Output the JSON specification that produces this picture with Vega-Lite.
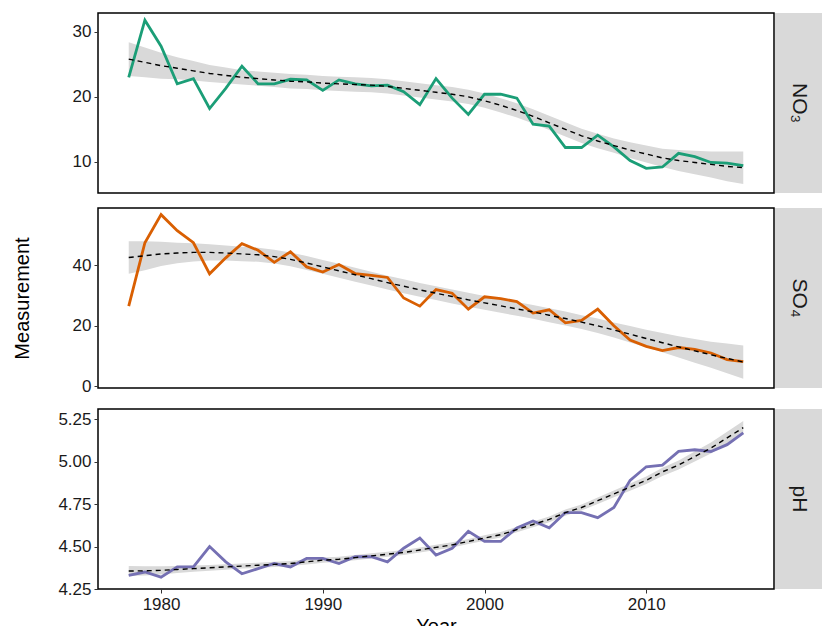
{
  "$schema": "https://vega.github.io/schema/vega-lite/v6.json",
  "padding": {"left": 11, "top": 12, "right": 4, "bottom": 0},
  "background": "white",
  "spacing": 13,
  "datasets": {
    "chem": [
      {"year":1978,"param":"NO3","value":23.0,"fit":25.8,"hw":2.6},
      {"year":1979,"param":"NO3","value":31.8,"fit":25.3,"hw":2.3},
      {"year":1980,"param":"NO3","value":27.8,"fit":24.8,"hw":2.0},
      {"year":1981,"param":"NO3","value":22.0,"fit":24.4,"hw":1.7},
      {"year":1982,"param":"NO3","value":22.8,"fit":24.0,"hw":1.5},
      {"year":1983,"param":"NO3","value":18.2,"fit":23.6,"hw":1.3},
      {"year":1984,"param":"NO3","value":21.3,"fit":23.3,"hw":1.2},
      {"year":1985,"param":"NO3","value":24.7,"fit":23.0,"hw":1.1},
      {"year":1986,"param":"NO3","value":22.0,"fit":22.8,"hw":1.1},
      {"year":1987,"param":"NO3","value":22.0,"fit":22.6,"hw":1.1},
      {"year":1988,"param":"NO3","value":22.7,"fit":22.4,"hw":1.1},
      {"year":1989,"param":"NO3","value":22.6,"fit":22.3,"hw":1.1},
      {"year":1990,"param":"NO3","value":21.0,"fit":22.1,"hw":1.1},
      {"year":1991,"param":"NO3","value":22.6,"fit":22.0,"hw":1.1},
      {"year":1992,"param":"NO3","value":22.0,"fit":21.9,"hw":1.1},
      {"year":1993,"param":"NO3","value":21.7,"fit":21.8,"hw":1.1},
      {"year":1994,"param":"NO3","value":21.8,"fit":21.6,"hw":1.1},
      {"year":1995,"param":"NO3","value":20.8,"fit":21.3,"hw":1.1},
      {"year":1996,"param":"NO3","value":18.8,"fit":21.0,"hw":1.1},
      {"year":1997,"param":"NO3","value":22.8,"fit":20.7,"hw":1.1},
      {"year":1998,"param":"NO3","value":19.8,"fit":20.4,"hw":1.1},
      {"year":1999,"param":"NO3","value":17.3,"fit":20.0,"hw":1.1},
      {"year":2000,"param":"NO3","value":20.4,"fit":19.4,"hw":1.1},
      {"year":2001,"param":"NO3","value":20.4,"fit":18.7,"hw":1.1},
      {"year":2002,"param":"NO3","value":19.8,"fit":17.9,"hw":1.1},
      {"year":2003,"param":"NO3","value":15.8,"fit":17.0,"hw":1.1},
      {"year":2004,"param":"NO3","value":15.5,"fit":16.0,"hw":1.1},
      {"year":2005,"param":"NO3","value":12.2,"fit":15.0,"hw":1.1},
      {"year":2006,"param":"NO3","value":12.2,"fit":14.0,"hw":1.1},
      {"year":2007,"param":"NO3","value":14.1,"fit":13.2,"hw":1.1},
      {"year":2008,"param":"NO3","value":12.3,"fit":12.5,"hw":1.1},
      {"year":2009,"param":"NO3","value":10.2,"fit":11.8,"hw":1.2},
      {"year":2010,"param":"NO3","value":9.0,"fit":11.2,"hw":1.3},
      {"year":2011,"param":"NO3","value":9.2,"fit":10.6,"hw":1.4},
      {"year":2012,"param":"NO3","value":11.3,"fit":10.2,"hw":1.6},
      {"year":2013,"param":"NO3","value":10.8,"fit":9.9,"hw":1.8},
      {"year":2014,"param":"NO3","value":9.9,"fit":9.6,"hw":2.0},
      {"year":2015,"param":"NO3","value":9.8,"fit":9.3,"hw":2.3},
      {"year":2016,"param":"NO3","value":9.4,"fit":9.1,"hw":2.5},
      {"year":1978,"param":"SO4","value":26.5,"fit":42.6,"hw":5.4},
      {"year":1979,"param":"SO4","value":47.5,"fit":43.2,"hw":4.8},
      {"year":1980,"param":"SO4","value":56.8,"fit":43.8,"hw":4.0},
      {"year":1981,"param":"SO4","value":51.5,"fit":44.1,"hw":3.4},
      {"year":1982,"param":"SO4","value":47.5,"fit":44.3,"hw":3.0},
      {"year":1983,"param":"SO4","value":37.2,"fit":44.3,"hw":2.7},
      {"year":1984,"param":"SO4","value":42.5,"fit":44.1,"hw":2.5},
      {"year":1985,"param":"SO4","value":47.2,"fit":43.8,"hw":2.4},
      {"year":1986,"param":"SO4","value":45.0,"fit":43.5,"hw":2.3},
      {"year":1987,"param":"SO4","value":41.0,"fit":42.9,"hw":2.3},
      {"year":1988,"param":"SO4","value":44.5,"fit":42.0,"hw":2.3},
      {"year":1989,"param":"SO4","value":39.5,"fit":40.8,"hw":2.3},
      {"year":1990,"param":"SO4","value":37.8,"fit":39.5,"hw":2.3},
      {"year":1991,"param":"SO4","value":40.3,"fit":38.2,"hw":2.3},
      {"year":1992,"param":"SO4","value":37.3,"fit":36.9,"hw":2.3},
      {"year":1993,"param":"SO4","value":36.7,"fit":35.6,"hw":2.3},
      {"year":1994,"param":"SO4","value":36.0,"fit":34.3,"hw":2.3},
      {"year":1995,"param":"SO4","value":29.2,"fit":33.1,"hw":2.3},
      {"year":1996,"param":"SO4","value":26.5,"fit":31.9,"hw":2.3},
      {"year":1997,"param":"SO4","value":32.0,"fit":30.8,"hw":2.3},
      {"year":1998,"param":"SO4","value":30.8,"fit":29.7,"hw":2.3},
      {"year":1999,"param":"SO4","value":25.5,"fit":28.6,"hw":2.3},
      {"year":2000,"param":"SO4","value":29.6,"fit":27.6,"hw":2.3},
      {"year":2001,"param":"SO4","value":29.0,"fit":26.6,"hw":2.3},
      {"year":2002,"param":"SO4","value":28.0,"fit":25.6,"hw":2.3},
      {"year":2003,"param":"SO4","value":24.2,"fit":24.6,"hw":2.3},
      {"year":2004,"param":"SO4","value":25.3,"fit":23.5,"hw":2.3},
      {"year":2005,"param":"SO4","value":21.0,"fit":22.4,"hw":2.3},
      {"year":2006,"param":"SO4","value":21.8,"fit":21.2,"hw":2.3},
      {"year":2007,"param":"SO4","value":25.5,"fit":20.0,"hw":2.4},
      {"year":2008,"param":"SO4","value":20.0,"fit":18.6,"hw":2.5},
      {"year":2009,"param":"SO4","value":15.3,"fit":17.2,"hw":2.7},
      {"year":2010,"param":"SO4","value":13.2,"fit":15.8,"hw":2.9},
      {"year":2011,"param":"SO4","value":11.8,"fit":14.4,"hw":3.2},
      {"year":2012,"param":"SO4","value":12.8,"fit":13.0,"hw":3.5},
      {"year":2013,"param":"SO4","value":12.2,"fit":11.7,"hw":3.9},
      {"year":2014,"param":"SO4","value":11.0,"fit":10.4,"hw":4.3},
      {"year":2015,"param":"SO4","value":8.8,"fit":9.2,"hw":4.9},
      {"year":2016,"param":"SO4","value":8.1,"fit":8.0,"hw":5.5},
      {"year":1978,"param":"pH","value":4.33,"fit":4.356,"hw":0.03},
      {"year":1979,"param":"pH","value":4.35,"fit":4.357,"hw":0.027},
      {"year":1980,"param":"pH","value":4.32,"fit":4.36,"hw":0.024},
      {"year":1981,"param":"pH","value":4.38,"fit":4.365,"hw":0.021},
      {"year":1982,"param":"pH","value":4.38,"fit":4.37,"hw":0.019},
      {"year":1983,"param":"pH","value":4.50,"fit":4.375,"hw":0.017},
      {"year":1984,"param":"pH","value":4.41,"fit":4.38,"hw":0.016},
      {"year":1985,"param":"pH","value":4.34,"fit":4.385,"hw":0.015},
      {"year":1986,"param":"pH","value":4.37,"fit":4.39,"hw":0.015},
      {"year":1987,"param":"pH","value":4.40,"fit":4.395,"hw":0.015},
      {"year":1988,"param":"pH","value":4.38,"fit":4.40,"hw":0.015},
      {"year":1989,"param":"pH","value":4.43,"fit":4.41,"hw":0.015},
      {"year":1990,"param":"pH","value":4.43,"fit":4.42,"hw":0.015},
      {"year":1991,"param":"pH","value":4.40,"fit":4.425,"hw":0.015},
      {"year":1992,"param":"pH","value":4.44,"fit":4.435,"hw":0.015},
      {"year":1993,"param":"pH","value":4.44,"fit":4.445,"hw":0.015},
      {"year":1994,"param":"pH","value":4.41,"fit":4.455,"hw":0.015},
      {"year":1995,"param":"pH","value":4.49,"fit":4.465,"hw":0.015},
      {"year":1996,"param":"pH","value":4.55,"fit":4.48,"hw":0.015},
      {"year":1997,"param":"pH","value":4.45,"fit":4.495,"hw":0.015},
      {"year":1998,"param":"pH","value":4.49,"fit":4.51,"hw":0.015},
      {"year":1999,"param":"pH","value":4.59,"fit":4.53,"hw":0.015},
      {"year":2000,"param":"pH","value":4.53,"fit":4.55,"hw":0.016},
      {"year":2001,"param":"pH","value":4.53,"fit":4.57,"hw":0.016},
      {"year":2002,"param":"pH","value":4.61,"fit":4.60,"hw":0.016},
      {"year":2003,"param":"pH","value":4.65,"fit":4.63,"hw":0.017},
      {"year":2004,"param":"pH","value":4.61,"fit":4.66,"hw":0.017},
      {"year":2005,"param":"pH","value":4.70,"fit":4.70,"hw":0.018},
      {"year":2006,"param":"pH","value":4.70,"fit":4.73,"hw":0.018},
      {"year":2007,"param":"pH","value":4.67,"fit":4.77,"hw":0.019},
      {"year":2008,"param":"pH","value":4.73,"fit":4.81,"hw":0.02},
      {"year":2009,"param":"pH","value":4.89,"fit":4.85,"hw":0.021},
      {"year":2010,"param":"pH","value":4.97,"fit":4.89,"hw":0.022},
      {"year":2011,"param":"pH","value":4.98,"fit":4.94,"hw":0.024},
      {"year":2012,"param":"pH","value":5.06,"fit":4.98,"hw":0.026},
      {"year":2013,"param":"pH","value":5.07,"fit":5.03,"hw":0.029},
      {"year":2014,"param":"pH","value":5.06,"fit":5.08,"hw":0.032},
      {"year":2015,"param":"pH","value":5.10,"fit":5.14,"hw":0.036},
      {"year":2016,"param":"pH","value":5.17,"fit":5.20,"hw":0.04}
    ]
  },
  "vconcat": [
    {
      "spacing": 0,
      "hconcat": [
        {
          "width": 676, "height": 180,
          "data": {"name": "chem"},
          "transform": [{"filter": "datum.param == 'NO3'"}, {"calculate": "datum.fit - datum.hw", "as": "lo"}, {"calculate": "datum.fit + datum.hw", "as": "hi"}],
          "encoding": {
            "x": {"field": "year", "type": "quantitative", "scale": {"domain": [1976.1, 2017.9], "nice": false}, "axis": null}
          },
          "layer": [
            {"mark": {"type": "area", "color": "#d9d9d9"}, "encoding": {"y": {"field": "lo", "type": "quantitative", "scale": {"domain": [5.2, 32.9], "nice": false, "zero": false}, "axis": {"values": [10, 20, 30], "title": null}}, "y2": {"field": "hi"}}},
            {"mark": {"type": "line", "color": "#1b9e77", "strokeWidth": 2.8}, "encoding": {"y": {"field": "value", "type": "quantitative"}}},
            {"mark": {"type": "line", "color": "black", "strokeWidth": 1.4, "strokeDash": [5, 4]}, "encoding": {"y": {"field": "fit", "type": "quantitative"}}}
          ]
        },
        {
          "width": 47, "height": 180,
          "view": {"fill": "#d9d9d9", "stroke": null},
          "data": {"values": [{"label": "NO₃"}]},
          "mark": {"type": "text", "angle": 90, "fontSize": 21, "color": "#1a1a1a"},
          "encoding": {"text": {"field": "label"}}
        }
      ]
    },
    {
      "spacing": 0,
      "hconcat": [
        {
          "width": 676, "height": 180,
          "data": {"name": "chem"},
          "transform": [{"filter": "datum.param == 'SO4'"}, {"calculate": "datum.fit - datum.hw", "as": "lo"}, {"calculate": "datum.fit + datum.hw", "as": "hi"}],
          "encoding": {
            "x": {"field": "year", "type": "quantitative", "scale": {"domain": [1976.1, 2017.9], "nice": false}, "axis": null}
          },
          "layer": [
            {"mark": {"type": "area", "color": "#d9d9d9"}, "encoding": {"y": {"field": "lo", "type": "quantitative", "scale": {"domain": [-0.6, 59], "nice": false, "zero": false}, "axis": {"values": [0, 20, 40], "title": "Measurement", "titlePadding": 40}}, "y2": {"field": "hi"}}},
            {"mark": {"type": "line", "color": "#d95f02", "strokeWidth": 2.8}, "encoding": {"y": {"field": "value", "type": "quantitative"}}},
            {"mark": {"type": "line", "color": "black", "strokeWidth": 1.4, "strokeDash": [5, 4]}, "encoding": {"y": {"field": "fit", "type": "quantitative"}}}
          ]
        },
        {
          "width": 47, "height": 180,
          "view": {"fill": "#d9d9d9", "stroke": null},
          "data": {"values": [{"label": "SO₄"}]},
          "mark": {"type": "text", "angle": 90, "fontSize": 21, "color": "#1a1a1a"},
          "encoding": {"text": {"field": "label"}}
        }
      ]
    },
    {
      "spacing": 0,
      "hconcat": [
        {
          "width": 676, "height": 180,
          "data": {"name": "chem"},
          "transform": [{"filter": "datum.param == 'pH'"}, {"calculate": "datum.fit - datum.hw", "as": "lo"}, {"calculate": "datum.fit + datum.hw", "as": "hi"}],
          "encoding": {
            "x": {"field": "year", "type": "quantitative", "scale": {"domain": [1976.1, 2017.9], "nice": false}, "axis": {"values": [1980, 1990, 2000, 2010], "format": "d", "title": "Year", "titlePadding": 4}}
          },
          "layer": [
            {"mark": {"type": "area", "color": "#d9d9d9"}, "encoding": {"y": {"field": "lo", "type": "quantitative", "scale": {"domain": [4.25, 5.31], "nice": false, "zero": false}, "axis": {"values": [4.25, 4.5, 4.75, 5.0, 5.25], "format": ".2f", "title": null}}, "y2": {"field": "hi"}}},
            {"mark": {"type": "line", "color": "#7570b3", "strokeWidth": 2.8}, "encoding": {"y": {"field": "value", "type": "quantitative"}}},
            {"mark": {"type": "line", "color": "black", "strokeWidth": 1.4, "strokeDash": [5, 4]}, "encoding": {"y": {"field": "fit", "type": "quantitative"}}}
          ]
        },
        {
          "width": 47, "height": 180,
          "view": {"fill": "#d9d9d9", "stroke": null},
          "data": {"values": [{"label": "pH"}]},
          "mark": {"type": "text", "angle": 90, "fontSize": 21, "color": "#1a1a1a"},
          "encoding": {"text": {"field": "label"}}
        }
      ]
    }
  ],
  "config": {
    "font": "Liberation Sans",
    "view": {"stroke": "black", "strokeWidth": 1.5},
    "axis": {"grid": false, "domain": false, "tickColor": "#333", "tickSize": 4, "labelFontSize": 17, "labelColor": "#1a1a1a", "labelPadding": 3, "titleFontSize": 20, "titleFontWeight": "normal", "titleColor": "black"}
  }
}
